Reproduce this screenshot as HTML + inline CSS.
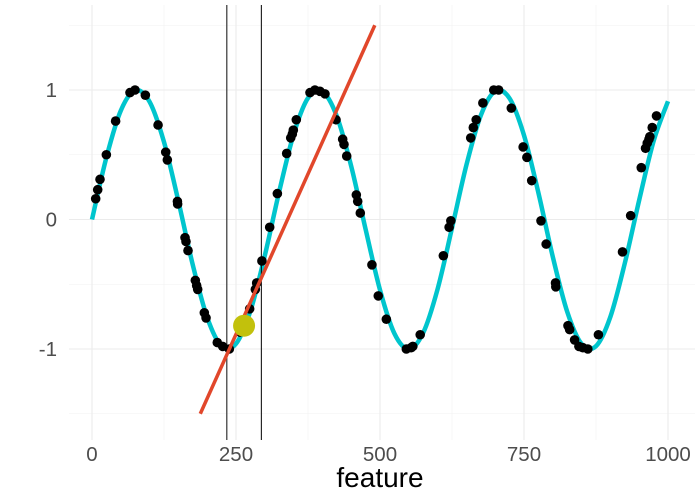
<!DOCTYPE html>
<html><head><meta charset="utf-8"><style>
body{margin:0;background:#fff}
svg{display:block;font-family:"Liberation Sans",sans-serif}
</style></head><body>
<svg id="chart" width="700" height="500"></svg>
<script>
const curveX=[0,25,50,75,100,125,150,175,200,225,250,275,300,325,350,375,400,425,450,475,500,525,550,575,600,625,650,675,700,725,750,775,800,825,850,875,900,925,950,975,1000];
const curveY=[0,0.479,0.841,0.997,0.909,0.598,0.141,-0.351,-0.757,-0.978,-0.959,-0.706,-0.279,0.215,0.657,0.938,0.989,0.798,0.412,-0.075,-0.544,-0.880,-1.000,-0.875,-0.537,-0.066,0.420,0.804,0.991,0.935,0.650,0.206,-0.288,-0.712,-0.961,-0.978,-0.751,-0.338,0.150,0.605,0.913];
const pointX=[6.4,9.9,13.9,24.9,41,66,74.7,92.6,114.7,128,130.8,148.3,148.7,161.5,163.2,166.7,179.4,181.7,183.5,195,198,217.5,226.8,238.4,257,273.7,283.6,285.9,295,308.5,321.8,338,345,347.8,349.5,354.7,378.5,387,395.8,404.5,423.6,435.2,437.5,442.2,458.9,461.3,465.8,486,497,511,545.7,554,557,569.8,610,620,623,657.5,662,667,678.6,697.5,706,728,748.5,755,763.4,779.5,788.5,804.7,805.2,826.4,829.3,837.8,845.3,852.2,860.8,879.2,921,935.2,953.6,961,964,967,968.5,972.6,980];
const pointY=[0.16,0.23,0.31,0.5,0.76,0.98,1.0,0.96,0.73,0.52,0.46,0.14,0.12,-0.14,-0.17,-0.24,-0.47,-0.51,-0.54,-0.72,-0.76,-0.95,-0.98,-1.0,-0.87,-0.69,-0.54,-0.49,-0.32,-0.06,0.2,0.51,0.63,0.66,0.69,0.77,0.98,1.0,0.99,0.97,0.77,0.62,0.58,0.49,0.19,0.14,0.05,-0.35,-0.59,-0.77,-1.0,-0.99,-0.98,-0.89,-0.28,-0.06,-0.01,0.63,0.71,0.77,0.9,1.0,1.0,0.86,0.56,0.48,0.3,-0.01,-0.19,-0.49,-0.52,-0.82,-0.85,-0.93,-0.98,-0.99,-1.0,-0.89,-0.25,0.03,0.4,0.55,0.59,0.62,0.64,0.71,0.8];
const tangentX=[188,491];
const tangentY=[-1.5,1.5];
const highlightX=[264];
const highlightY=[-0.82];
const vlineX=[234,294];
const xTicks=[0,250,500,750,1000];
const xMinor=[125,375,625,875];
const yTicks=[-1,0,1];
const yMinor=[-1.5,-0.5,0.5,1.5];

const sx=v=>92+v*0.576;
const sy=v=>219.5-v*129.5;
const NS="http://www.w3.org/2000/svg";
const svg=document.getElementById('chart');
function mk(tag,attrs,parent){const e=document.createElementNS(NS,tag);for(const k in attrs)e.setAttribute(k,attrs[k]);(parent||svg).appendChild(e);return e;}
const P={l:69,r:695,t:5,b:440};
const grid=mk('g',{});


xMinor.forEach(v=>{const l=mk('line',{x1:sx(v),x2:sx(v),y1:P.t,y2:P.b,stroke:'#f2f2f2','stroke-width':0.6},grid);});
yMinor.forEach(v=>{const l=mk('line',{x1:P.l,x2:P.r,y1:sy(v),y2:sy(v),stroke:'#f2f2f2','stroke-width':0.6},grid);});
xTicks.forEach(v=>{const l=mk('line',{x1:sx(v),x2:sx(v),y1:P.t,y2:P.b,stroke:'#ebebeb','stroke-width':1.1},grid);
 const t=mk('text',{x:sx(v),y:461,'text-anchor':'middle','font-size':20.5,fill:'#4d4d4d'});t.textContent=v;});
yTicks.forEach(v=>{const l=mk('line',{x1:P.l,x2:P.r,y1:sy(v),y2:sy(v),stroke:'#ebebeb','stroke-width':1.1},grid);
 const t=mk('text',{x:57,y:sy(v)+7,'text-anchor':'end','font-size':20.5,fill:'#4d4d4d'});t.textContent=v;});
const pts=curveX.map((x,i)=>[sx(x),sy(curveY[i])]);
let d=`M${pts[0][0]},${pts[0][1]}`;
for(let i=0;i<pts.length-1;i++){const p0=pts[Math.max(0,i-1)],p1=pts[i],p2=pts[i+1],p3=pts[Math.min(pts.length-1,i+2)];
 d+=` C${p1[0]+(p2[0]-p0[0])/6},${p1[1]+(p2[1]-p0[1])/6} ${p2[0]-(p3[0]-p1[0])/6},${p2[1]-(p3[1]-p1[1])/6} ${p2[0]},${p2[1]}`;}
const c=mk('path',{d:d,fill:'none',stroke:'#00C5CD','stroke-width':4.5});


vlineX.forEach((v,i)=>{const l=mk('line',{x1:sx(v),x2:sx(v),y1:P.t,y2:P.b,stroke:i===0?'#444':'#000','stroke-width':i===0?1.3:1});});
const pg=mk('g',{});


pointX.forEach((x,i)=>{const p=mk('circle',{cx:sx(x),cy:sy(pointY[i]),r:4.8,fill:'#000'},pg);});
const tl=mk('line',{x1:sx(tangentX[0]),y1:sy(tangentY[0]),x2:sx(tangentX[1]),y2:sy(tangentY[1]),stroke:'#E1472B','stroke-width':3.5});


const hp=mk('circle',{cx:sx(highlightX[0]),cy:sy(highlightY[0]),r:11,fill:'#C2C10C'});


const xt=mk('text',{x:380,y:487,'text-anchor':'middle','font-size':28,fill:'#000'});
xt.textContent='feature';


</script>
</body></html>
